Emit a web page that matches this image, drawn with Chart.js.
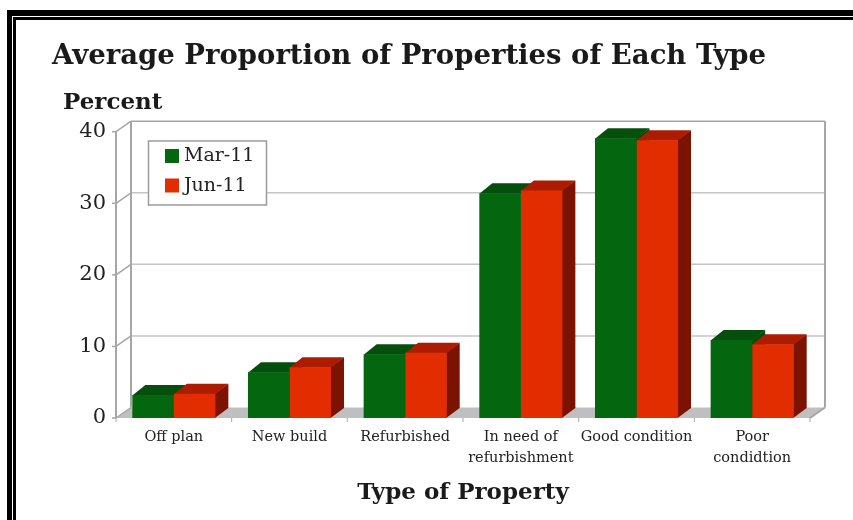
<!DOCTYPE html>
<html>
<head>
<meta charset="utf-8">
<script src="https://cdn.jsdelivr.net/npm/chart.js@4"></script>
<style>
  html, body { margin: 0; padding: 0; background: #fff; overflow: hidden; }
  #wrap { position: relative; width: 853px; height: 520px; }
  canvas { position: absolute; left: 0; top: 0; }
  .frame { position: absolute; right: 0; bottom: 0; border-style: solid; border-color: #000; border-right: 0; border-bottom: 0; }
  #frameOuter { left: 7px; top: 10px; border-left-width: 5px; border-top-width: 6px; }
  #frameInner { left: 13px; top: 17px; border-left-width: 3px; border-top-width: 3px; }
</style>
</head>
<body>
<div id="wrap">
  <canvas id="chart" width="853" height="520"></canvas>
  <div class="frame" id="frameOuter"></div>
  <div class="frame" id="frameInner"></div>
</div>
<script>
"use strict";

const categories = ["Off plan", "New build", "Refurbished", ["In need of", "refurbishment"], "Good condition", ["Poor", "condidtion"]];
const mar11 = [3.2, 6.4, 8.9, 31.4, 39.1, 10.9];
const jun11 = [3.4, 7.1, 9.1, 31.8, 38.8, 10.3];
const yTicks = [0, 10, 20, 30, 40];

const SERIF = "'DejaVu Serif', serif";
const DEPTH_X = 15;   // wall depth
const DEPTH_Y = 10.5;
const BAR_DX = 13;    // bar depth
const BAR_DY = 10;
const LINE = "#a6a6a6";
const GRID = "#c4c4c4";

const faces = [
  { top: "#034f0b", side: "#034f0b" },
  { top: "#ad1c00", side: "#7c1200" }
];

function poly(ctx, pts, fill) {
  ctx.beginPath();
  pts.forEach((p, i) => i ? ctx.lineTo(p[0], p[1]) : ctx.moveTo(p[0], p[1]));
  ctx.closePath();
  ctx.fillStyle = fill;
  ctx.fill();
}

function seg(ctx, x0, y0, x1, y1) {
  ctx.beginPath();
  ctx.moveTo(x0, y0);
  ctx.lineTo(x1, y1);
  ctx.stroke();
}

// back wall, side wall and floor, then the 3d faces of the bars
const box3d = {
  id: "box3d",
  beforeDatasetsDraw(chart) {
    const { ctx, scales: { x, y } } = chart;
    const a = chart.chartArea;
    ctx.save();

    poly(ctx, [[a.left, a.bottom], [a.left + DEPTH_X, a.bottom - DEPTH_Y],
      [a.right + DEPTH_X, a.bottom - DEPTH_Y], [a.right, a.bottom]], "#bfbfc2");

    ctx.lineWidth = 1.5;
    yTicks.forEach(v => {
      const py = y.getPixelForValue(v);
      ctx.strokeStyle = LINE;
      seg(ctx, a.left - 4, py, a.left, py);
      seg(ctx, a.left, py, a.left + DEPTH_X, py - DEPTH_Y);
      ctx.strokeStyle = v === 40 ? LINE : GRID;
      if (v > 0) seg(ctx, a.left + DEPTH_X, py - DEPTH_Y, a.right + DEPTH_X, py - DEPTH_Y);
    });
    ctx.strokeStyle = LINE;
    ctx.lineWidth = 2;
    seg(ctx, a.left, a.top, a.left, a.bottom);
    seg(ctx, a.left + DEPTH_X, a.top - DEPTH_Y, a.left + DEPTH_X, a.bottom - DEPTH_Y);
    seg(ctx, a.right + DEPTH_X, a.top - DEPTH_Y, a.right + DEPTH_X, a.bottom - DEPTH_Y);
    seg(ctx, a.right, a.bottom, a.right + DEPTH_X, a.bottom - DEPTH_Y);

    ctx.lineWidth = 1;
    const step = a.width / categories.length;
    for (let i = 0; i <= categories.length; i++) {
      const px = x.getPixelForTick(0) - step / 2 + i * step;
      seg(ctx, px, a.bottom, px, a.bottom + 4);
    }

    // faces run half a pixel under the fronts so no light seam shows
    categories.forEach((c, j) => {
      chart.data.datasets.forEach((ds, d) => {
        const bar = chart.getDatasetMeta(d).data[j];
        const x0 = bar.x - bar.width / 2;
        const x1 = bar.x + bar.width / 2;
        poly(ctx, [[x1 - 0.5, bar.y], [x1 + BAR_DX, bar.y - BAR_DY],
          [x1 + BAR_DX, bar.base - BAR_DY], [x1 - 0.5, bar.base]], faces[d].side);
        poly(ctx, [[x0, bar.y + 0.5], [x0 + BAR_DX, bar.y - BAR_DY],
          [x1 + BAR_DX, bar.y - BAR_DY], [x1, bar.y + 0.5]], faces[d].top);
      });
    });
    ctx.restore();
  },
  // legend box and the horizontal "Percent" label
  afterDraw(chart) {
    const { ctx } = chart;
    ctx.save();
    ctx.fillStyle = "#1a1a1a";
    ctx.font = "bold 23px " + SERIF;
    ctx.textBaseline = "middle";
    ctx.fillText("Percent", 63, 103);

    ctx.fillStyle = "#fff";
    ctx.fillRect(148.5, 141, 118, 64);
    ctx.strokeStyle = "#9a9a9a";
    ctx.lineWidth = 1.5;
    ctx.strokeRect(148.5, 141, 118, 64);
    ctx.font = "19px " + SERIF;
    chart.data.datasets.forEach((ds, d) => {
      const top = 149 + d * 29.5;
      ctx.fillStyle = ds.backgroundColor;
      ctx.fillRect(165, top, 14, 14);
      ctx.fillStyle = "#222";
      ctx.fillText(ds.label, 184, top + 7.5);
    });
    ctx.restore();
  }
};

new Chart(document.getElementById("chart"), {
  type: "bar",
  data: {
    labels: categories,
    datasets: [
      { label: "Mar-11", data: mar11, backgroundColor: "#04660f" },
      { label: "Jun-11", data: jun11, backgroundColor: "#e22d00" }
    ]
  },
  options: {
    responsive: false,
    animation: false,
    layout: { padding: { left: 52, right: 43, top: 0, bottom: 0 } },
    datasets: { bar: { barPercentage: 1, categoryPercentage: 0.718, borderWidth: 0 } },
    plugins: {
      legend: { display: false },
      tooltip: { enabled: false },
      title: {
        display: true,
        text: "Average Proportion of Properties of Each Type",
        align: "start",
        color: "#1a1a1a",
        font: { family: SERIF, size: 27.5, weight: "bold", lineHeight: 1.2 },
        padding: { top: 40, bottom: 58.7 }
      }
    },
    scales: {
      x: {
        grid: { display: false },
        border: { display: false },
        afterFit: s => { s.height = 102; },
        ticks: {
          color: "#222",
          maxRotation: 0,
          autoSkip: false,
          padding: 1,
          font: { family: SERIF, size: 14.5, lineHeight: 1.45 }
        },
        title: {
          display: true,
          text: "Type of Property",
          color: "#1a1a1a",
          font: { family: SERIF, size: 23, weight: "bold" },
          padding: { top: 0, bottom: 13 }
        }
      },
      y: {
        min: 0,
        max: 40,
        afterFit: s => { s.width = 64; },
        afterBuildTicks: s => { s.ticks = yTicks.map(v => ({ value: v })); },
        grid: { display: false },
        border: { display: false },
        ticks: {
          color: "#222",
          padding: 2,
          font: { family: SERIF, size: 21 }
        }
      }
    }
  },
  plugins: [box3d]
});
</script>
</body>
</html>
